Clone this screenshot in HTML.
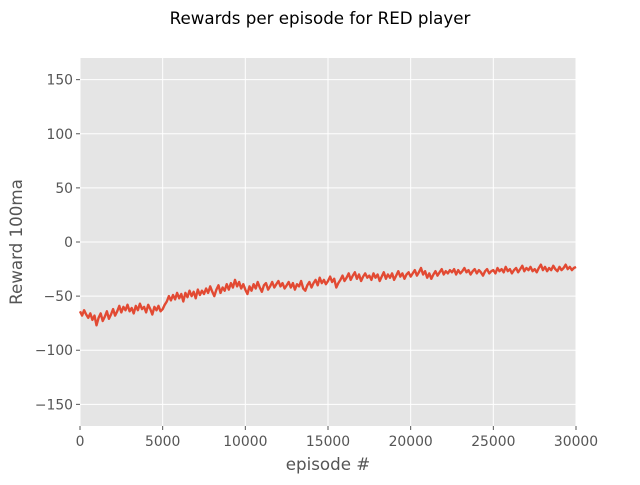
<!DOCTYPE html>
<html><head><meta charset="utf-8"><style>
body{margin:0;background:#fff;}
svg text{font-family:"DejaVu Sans","Liberation Sans",sans-serif;}
</style></head><body>
<svg width="640" height="480" id="c">
<text x="320" y="24" text-anchor="middle" font-size="16.7" fill="#000">Rewards per episode for RED player</text>
<rect x="80" y="58" width="496" height="368" fill="#e5e5e5"/>
<g id="grid"></g><g id="ticks"></g>
<path id="line" fill="none" stroke="#e24a33" stroke-width="2.4" stroke-linejoin="round"/>
<text x="328" y="470" text-anchor="middle" font-size="16.7" fill="#555">episode #</text>
<text transform="translate(22,242) rotate(-90)" text-anchor="middle" font-size="16.7" fill="#555">Reward 100ma</text>
</svg>
<script>
const xTicks=[0,5000,10000,15000,20000,25000,30000];
const yTicks=[-150,-100,-50,0,50,100,150];
const step=125;
const rewards=[
-64,-68,-63,-67,-70,-66,-72,-68,-77,-70,-66,-73,-69,-64,-71,-67,-62,-68,-64,-59,
-65,-60,-63,-58,-64,-61,-66,-59,-63,-57,-62,-60,-65,-58,-62,-67,-60,-63,-59,-64,
-62,-58,-55,-50,-54,-49,-53,-47,-52,-48,-55,-47,-51,-45,-50,-46,-52,-44,-49,-45,
-48,-43,-47,-41,-46,-50,-44,-40,-47,-42,-45,-39,-44,-38,-42,-35,-41,-37,-43,-39,
-44,-48,-41,-45,-39,-43,-37,-42,-46,-40,-38,-44,-41,-37,-42,-39,-36,-41,-38,-43,
-40,-37,-42,-38,-44,-39,-41,-36,-43,-45,-40,-37,-42,-38,-35,-40,-33,-38,-35,-39,
-36,-32,-37,-34,-42,-38,-35,-31,-36,-33,-29,-35,-31,-28,-34,-30,-36,-32,-29,-33,
-31,-35,-29,-33,-30,-36,-32,-28,-34,-30,-33,-29,-35,-31,-27,-32,-29,-34,-30,-28,
-32,-29,-26,-31,-28,-24,-30,-27,-33,-29,-34,-30,-27,-31,-28,-25,-30,-27,-29,-26,
-28,-25,-30,-26,-29,-27,-24,-28,-26,-30,-27,-25,-29,-26,-28,-31,-27,-25,-29,-27,
-26,-29,-24,-27,-25,-28,-23,-27,-25,-29,-26,-24,-28,-25,-22,-27,-24,-26,-23,-27,
-25,-28,-24,-21,-26,-23,-27,-24,-26,-22,-25,-27,-23,-26,-24,-21,-25,-23,-26,-24,
-23];
const X=v=>80+v/30000*496, Y=v=>242-v*184/170;
const g=document.getElementById('grid'),t=document.getElementById('ticks');
const NS='http://www.w3.org/2000/svg';
function mk(p,tag,a){const e=document.createElementNS(NS,tag);for(const k in a)e.setAttribute(k,a[k]);p.appendChild(e);return e;}
xTicks.forEach(v=>{
 const l=mk(g,'line',{x1:X(v),x2:X(v),y1:58,y2:426,stroke:'#fff','stroke-width':1});
 
 
 mk(t,'line',{x1:X(v),x2:X(v),y1:426,y2:430,stroke:'#555'});
 const tx=mk(t,'text',{x:X(v),y:446,'text-anchor':'middle','font-size':13.9,fill:'#555'});tx.textContent=v;
 
 
});
yTicks.forEach(v=>{
 const l=mk(g,'line',{x1:80,x2:576,y1:Y(v),y2:Y(v),stroke:'#fff','stroke-width':1});
 
 
 mk(t,'line',{x1:76,x2:80,y1:Y(v),y2:Y(v),stroke:'#555'});
 const tx=mk(t,'text',{x:73,y:Y(v)+5,'text-anchor':'end','font-size':13.9,fill:'#555'});tx.textContent=v<0?'\u2212'+(-v):v;
 
 
});
document.getElementById('line').setAttribute('d',rewards.map((r,i)=>(i?'L':'M')+X(i*step).toFixed(1)+','+Y(r).toFixed(1)).join(''));
</script>
</body></html>
